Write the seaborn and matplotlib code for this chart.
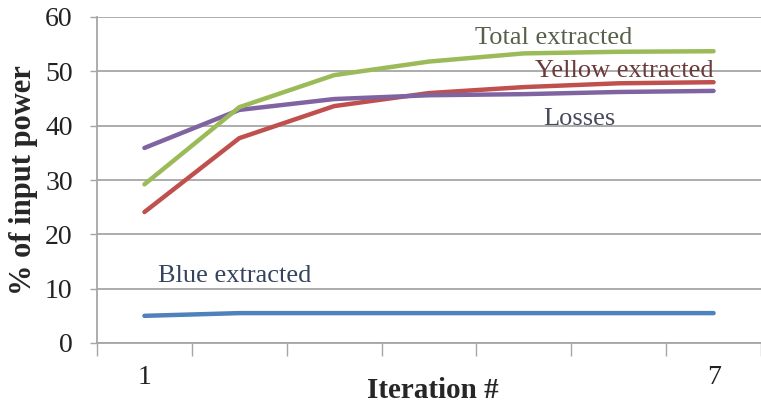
import matplotlib
matplotlib.use("Agg")
import matplotlib.pyplot as plt
import seaborn as sns
import pandas as pd

iterations = [1, 2, 3, 4, 5, 6, 7]
blue_extracted = [5.0, 5.5, 5.5, 5.5, 5.5, 5.5, 5.5]
yellow_extracted = [24.1, 37.7, 43.6, 46.0, 47.1, 47.8, 48.0]
losses = [35.9, 42.9, 44.9, 45.6, 45.8, 46.2, 46.4]
total_extracted = [29.2, 43.4, 49.3, 51.8, 53.3, 53.6, 53.7]

series_names = ["Blue extracted", "Yellow extracted", "Losses", "Total extracted"]
series_values = [blue_extracted, yellow_extracted, losses, total_extracted]
line_colors = ["#4F81BD", "#C0504D", "#8064A2", "#9BBB59"]
text_colors = ["#34445e", "#6b3a3a", "#4a4a5e", "#56604a"]
# label anchor (iteration, percent) for each series name
label_pos = [(1.95, 12.3), (6.06, 50.1), (5.58, 41.2), (5.31, 56.1)]

y_ticks = [0, 10, 20, 30, 40, 50, 60]
x_tick_labels = ["1", "7"]

rows = []
for name, vals in zip(series_names, series_values):
    for it, v in zip(iterations, vals):
        rows.append({"Iteration": it, "Percent": v, "Series": name})
df = pd.DataFrame(rows)

sns.set_theme(style="white")
plt.rcParams["font.family"] = ["Liberation Serif", "DejaVu Serif"]

fig = plt.figure(figsize=(7.61, 4.08), dpi=100)
ax = fig.add_axes([97 / 761, 65 / 408, 664 / 761, 326 / 408])

sns.lineplot(data=df, x="Iteration", y="Percent", hue="Series",
             hue_order=series_names, palette=line_colors,
             linewidth=3.2, legend=False, ax=ax, zorder=3)

ax.set_xlim(0.5, 7.38)
ax.set_ylim(0, 60)

# horizontal gridlines
ax.set_yticks(y_ticks)
ax.yaxis.grid(True, color="#a6a6a6", linewidth=1.3, zorder=0)
ax.xaxis.grid(False)
ax.set_yticklabels([str(t) for t in y_ticks], fontsize=20, color="#222222")
ax.tick_params(axis="y", which="major", length=5, width=1, color="#a6a6a6",
               direction="out", pad=12.5, left=True)

# category boundary ticks without labels, labels at first and last iteration
ax.set_xticks([0.5 + k for k in range(8)])
ax.set_xticklabels([""] * 8)
ax.tick_params(axis="x", which="major", length=9, width=1, color="#a6a6a6",
               direction="out", bottom=True)
ax.set_xticks([iterations[0], iterations[-1]], minor=True)
ax.set_xticklabels(x_tick_labels, minor=True, fontsize=20, color="#222222")
ax.tick_params(axis="x", which="minor", length=0, pad=16)

for side in ["top", "right"]:
    ax.spines[side].set_visible(False)
for side in ["left", "bottom"]:
    ax.spines[side].set_color("#a6a6a6")
    ax.spines[side].set_linewidth(1.3)

ax.set_xlabel("Iteration #", fontsize=21, fontweight="bold", va="center")
ax.xaxis.set_label_coords(0.506, -0.145)
ax.set_ylabel("% of input power", fontsize=22, fontweight="bold", va="center")
ax.yaxis.set_label_coords(-0.11, 0.5)

for name, (px, py), col in zip(series_names, label_pos, text_colors):
    ax.text(px, py, name, fontsize=19, color=col, ha="center", va="center",
            zorder=4)

fig.savefig("out.png", dpi=100)
